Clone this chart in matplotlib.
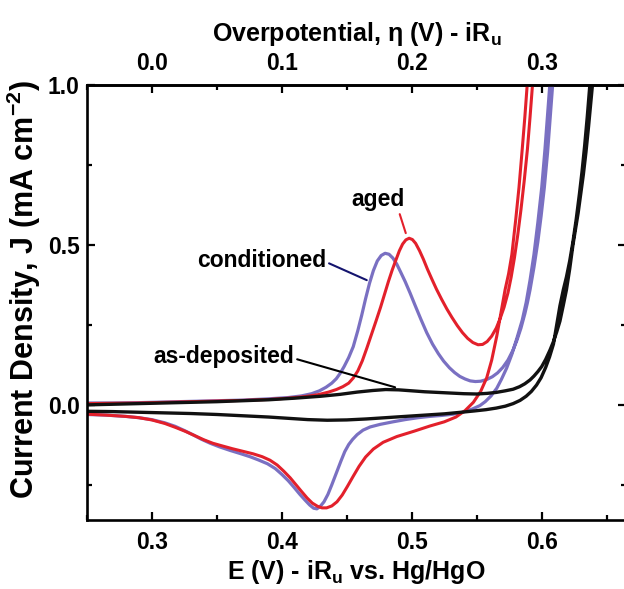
import matplotlib
matplotlib.use("Agg")
import matplotlib.pyplot as plt
from matplotlib.ticker import MultipleLocator, FixedLocator

plt.rcParams['font.family'] = ['Liberation Sans', 'DejaVu Sans']
plt.rcParams['mathtext.default'] = 'regular'

# CV sweeps, E (V) vs. Hg/HgO and J (mA cm-2); fwd = anodic sweep, rev = cathodic sweep
agedFwdE = [0.250, 0.270, 0.290, 0.310, 0.330, 0.350, 0.370, 0.390, 0.405, 0.418, 0.428, 0.436,
            0.442, 0.447, 0.4515, 0.455, 0.4585, 0.462, 0.4655, 0.469, 0.4725, 0.476, 0.479,
            0.482, 0.485, 0.488, 0.4905, 0.493, 0.4955, 0.498, 0.5005, 0.503, 0.506, 0.509,
            0.512, 0.5155, 0.519, 0.523, 0.527, 0.531, 0.535, 0.539, 0.543, 0.547, 0.551,
            0.5545, 0.558, 0.5615, 0.565, 0.568, 0.571, 0.574, 0.5765, 0.579, 0.5815, 0.584,
            0.5865, 0.589, 0.591, 0.5925, 0.594]
agedFwdJ = [0.004, 0.005, 0.006, 0.008, 0.010, 0.012, 0.014, 0.017, 0.021, 0.026, 0.032, 0.040,
            0.048, 0.057, 0.068, 0.084, 0.106, 0.138, 0.178, 0.220, 0.262, 0.305, 0.345,
            0.385, 0.422, 0.455, 0.482, 0.503, 0.516, 0.521, 0.517, 0.505, 0.482, 0.455,
            0.425, 0.393, 0.362, 0.330, 0.300, 0.273, 0.248, 0.226, 0.208, 0.195, 0.188,
            0.189, 0.198, 0.215, 0.240, 0.270, 0.305, 0.350, 0.400, 0.460, 0.530, 0.610,
            0.700, 0.800, 0.900, 0.980, 1.060]
agedRevE = [0.5898, 0.5888, 0.587, 0.585, 0.5825, 0.580, 0.577, 0.5745, 0.5718, 0.5685, 0.5654,
            0.5615, 0.5577, 0.553, 0.5474, 0.541, 0.534, 0.525, 0.514, 0.502, 0.4885, 0.478,
            0.4705, 0.4645, 0.4595, 0.455, 0.4505, 0.4465, 0.4425, 0.4385, 0.4345, 0.431,
            0.4275, 0.4235, 0.4195, 0.4155, 0.411, 0.4065, 0.4015, 0.3965, 0.391, 0.385, 0.378,
            0.370, 0.362, 0.354, 0.347, 0.340, 0.333, 0.326, 0.318, 0.310, 0.300, 0.290,
            0.280, 0.265, 0.250]
agedRevJ = [1.060, 1.000, 0.900, 0.800, 0.680, 0.580, 0.470, 0.410, 0.360, 0.285, 0.215,
            0.140, 0.085, 0.042, 0.008, -0.018, -0.038, -0.053, -0.066, -0.082, -0.099, -0.117,
            -0.138, -0.163, -0.192, -0.223, -0.255, -0.282, -0.303, -0.316, -0.322, -0.322,
            -0.317, -0.307, -0.291, -0.272, -0.250, -0.228, -0.207, -0.188, -0.173, -0.162, -0.153,
            -0.145, -0.137, -0.128, -0.120, -0.109, -0.096, -0.083, -0.070, -0.058, -0.047, -0.040,
            -0.036, -0.032, -0.029]

condFwdE = [0.250, 0.270, 0.290, 0.310, 0.330, 0.350, 0.370, 0.390, 0.405, 0.415, 0.423, 0.429,
            0.434, 0.4385, 0.442, 0.445, 0.448, 0.4515, 0.455, 0.4585, 0.4615, 0.4645, 0.4675,
            0.4705, 0.4735, 0.4765, 0.4795, 0.4825, 0.4855, 0.4885, 0.4915, 0.495, 0.4987,
            0.5025, 0.507, 0.5115, 0.516, 0.5205, 0.5245, 0.529, 0.533, 0.537, 0.541, 0.545,
            0.549, 0.553, 0.5575, 0.562, 0.566, 0.570, 0.574, 0.578, 0.581, 0.584, 0.587,
            0.589, 0.591, 0.594, 0.597, 0.5995, 0.602, 0.6045, 0.6065, 0.608, 0.6095]
condFwdJ = [0.006, 0.006, 0.007, 0.009, 0.011, 0.013, 0.015, 0.019, 0.023, 0.028, 0.035, 0.044,
            0.055, 0.068, 0.082, 0.099, 0.120, 0.148, 0.182, 0.232, 0.280, 0.332, 0.380,
            0.420, 0.450, 0.467, 0.474, 0.471, 0.459, 0.440, 0.415, 0.385, 0.350,
            0.312, 0.268, 0.226, 0.190, 0.160, 0.137, 0.116, 0.101, 0.089, 0.081, 0.075,
            0.073, 0.074, 0.079, 0.088, 0.100, 0.117, 0.140, 0.172, 0.203, 0.240, 0.285,
            0.320, 0.360, 0.430, 0.510, 0.590, 0.680, 0.790, 0.900, 0.980, 1.060]
condRevE = [0.6078, 0.6062, 0.6045, 0.6025, 0.600, 0.597, 0.594, 0.591, 0.588, 0.585, 0.581,
            0.577, 0.573, 0.569, 0.5654, 0.561, 0.5565, 0.5525, 0.546, 0.539, 0.532, 0.523,
            0.514, 0.505, 0.495, 0.4855, 0.4756, 0.468, 0.4625, 0.458, 0.4545, 0.4515, 0.4485,
            0.4455, 0.442, 0.4385, 0.4355, 0.4325, 0.4295, 0.427, 0.4245, 0.4215, 0.418, 0.414,
            0.4095, 0.405, 0.400, 0.395, 0.389, 0.382, 0.3756, 0.368, 0.360, 0.352, 0.345,
            0.338, 0.332, 0.325, 0.318, 0.310, 0.300, 0.290, 0.280, 0.265, 0.250]
condRevJ = [1.060, 1.000, 0.910, 0.800, 0.680, 0.570, 0.470, 0.390, 0.320, 0.265, 0.210,
            0.158, 0.115, 0.080, 0.052, 0.028, 0.010, -0.002, -0.014, -0.023, -0.029, -0.033,
            -0.036, -0.040, -0.046, -0.053, -0.061, -0.069, -0.079, -0.093, -0.108, -0.124, -0.146,
            -0.176, -0.213, -0.250, -0.280, -0.303, -0.318, -0.325, -0.323, -0.313, -0.298, -0.280,
            -0.258, -0.237, -0.217, -0.199, -0.184, -0.172, -0.162, -0.152, -0.142, -0.131, -0.120,
            -0.107, -0.094, -0.080, -0.067, -0.056, -0.046, -0.040, -0.036, -0.032, -0.030]

asdepFwdE = [0.250, 0.270, 0.290, 0.310, 0.330, 0.350, 0.370, 0.390, 0.410, 0.430, 0.445, 0.458,
             0.470, 0.480, 0.490, 0.500, 0.510, 0.520, 0.530, 0.540, 0.550, 0.558, 0.565, 0.572,
             0.578, 0.583, 0.587, 0.591, 0.594, 0.597, 0.600, 0.603, 0.6064, 0.609, 0.6115,
             0.614, 0.6165, 0.619, 0.6215, 0.624, 0.626, 0.628, 0.630, 0.632, 0.634, 0.636,
             0.6375, 0.639, 0.6405]
asdepFwdJ = [0.000, 0.002, 0.004, 0.006, 0.008, 0.010, 0.013, 0.016, 0.021, 0.027, 0.033, 0.040,
             0.045, 0.048, 0.047, 0.044, 0.041, 0.039, 0.037, 0.035, 0.034, 0.036, 0.039, 0.044,
             0.049, 0.057, 0.066, 0.078, 0.090, 0.104, 0.120, 0.142, 0.172, 0.198, 0.228,
             0.262, 0.310, 0.360, 0.425, 0.500, 0.550, 0.600, 0.660, 0.720, 0.790, 0.870,
             0.935, 1.000, 1.060]
asdepRevE = [0.6385, 0.637, 0.635, 0.633, 0.631, 0.629, 0.6265, 0.624, 0.6215, 0.619, 0.6166,
             0.614, 0.6115, 0.609, 0.606, 0.603, 0.5995, 0.596, 0.592, 0.588, 0.5833, 0.578,
             0.572, 0.565, 0.557, 0.548, 0.538, 0.525, 0.510, 0.495, 0.480, 0.465, 0.450, 0.435,
             0.420, 0.405, 0.390, 0.370, 0.350, 0.330, 0.310, 0.290, 0.270, 0.250]
asdepRevJ = [1.060, 1.000, 0.900, 0.810, 0.730, 0.660, 0.580, 0.510, 0.450, 0.400, 0.360,
             0.310, 0.250, 0.190, 0.150, 0.117, 0.085, 0.062, 0.042, 0.027, 0.014, 0.004,
             -0.004, -0.010, -0.015, -0.019, -0.023, -0.028, -0.032, -0.036, -0.040, -0.044, -0.047,
             -0.048, -0.046, -0.042, -0.038, -0.034, -0.030, -0.027, -0.025, -0.023, -0.021, -0.020]

xTicks = [0.3, 0.4, 0.5, 0.6]
yTicks = [0.0, 0.5, 1.0]
etaTicks = [0.0, 0.1, 0.2, 0.3]
eRef = 0.3  # E at zero overpotential

red = '#e3202b'
blue = '#7a70c2'
navy = '#14146e'

fig = plt.figure(figsize=(6.24, 5.89), dpi=100)
ax = fig.add_axes([0.139, 0.1171, 0.8646, 0.7385])

ax.plot(condFwdE + condRevE, condFwdJ + condRevJ, color=blue, lw=2.3)
ax.plot(agedFwdE + agedRevE, agedFwdJ + agedRevJ, color=red, lw=2.2)
ax.plot(asdepFwdE + asdepRevE, asdepFwdJ + asdepRevJ, color='#111111', lw=2.4)

ax.set_xlim(0.25, 0.665)
ax.set_ylim(-0.36, 1.0)

ax.xaxis.set_major_locator(FixedLocator(xTicks))
ax.xaxis.set_minor_locator(MultipleLocator(0.05))
ax.yaxis.set_major_locator(FixedLocator(yTicks))
ax.yaxis.set_minor_locator(MultipleLocator(0.25))
ax.tick_params(which='both', direction='in', width=1.6, right=True, top=False)
ax.tick_params(which='major', length=6)
ax.tick_params(which='minor', length=3.5)
ax.tick_params(axis='x', which='major', pad=8)
ax.tick_params(axis='y', which='major', pad=5)
for s in ax.spines.values():
    s.set_linewidth(1.9)
for lab in ax.get_xticklabels() + ax.get_yticklabels():
    lab.set_fontweight('bold')
    lab.set_fontsize(16.5)

# overpotential scale on top
sec = ax.secondary_xaxis('top', functions=(lambda e: e - eRef, lambda n: n + eRef))
sec.xaxis.set_major_locator(FixedLocator(etaTicks))
sec.xaxis.set_minor_locator(MultipleLocator(0.05))
sec.tick_params(which='both', direction='in', width=1.6)
sec.tick_params(which='major', length=6, pad=7)
sec.tick_params(which='minor', length=3.5)
sec.spines['top'].set_linewidth(1.9)
for lab in sec.get_xticklabels():
    lab.set_fontweight('bold')
    lab.set_fontsize(16.5)

ax.set_xlabel('E (V) - iR$_u$ vs. Hg/HgO', fontsize=18, fontweight='bold', labelpad=3)
sec.set_xlabel('Overpotential, η (V) - iR$_u$', fontsize=18, fontweight='bold', labelpad=8)
ax.set_ylabel('Current Density, J (mA cm$^{-2}$)', fontsize=22, fontweight='bold')
ax.yaxis.set_label_coords(-0.081, 0.53)

txtFont = dict(fontsize=16.5, fontweight='bold', ha='center', va='center')
ax.annotate('aged', xy=(0.4954, 0.537), xytext=(0.4737, 0.641),
            arrowprops=dict(arrowstyle='-', color=red, lw=1.5, shrinkA=0, shrinkB=0,
                            relpos=(0.9, 0.0)), **txtFont)
ax.annotate('conditioned', xy=(0.4654, 0.39), xytext=(0.3846, 0.45),
            arrowprops=dict(arrowstyle='-', color=navy, lw=1.5, shrinkA=0, shrinkB=0,
                            relpos=(1.02, 0.4)), **txtFont)
ax.annotate('as-deposited', xy=(0.4872, 0.055), xytext=(0.3556, 0.151),
            arrowprops=dict(arrowstyle='-', color='black', lw=1.5, shrinkA=0, shrinkB=0,
                            relpos=(1.01, 0.4)), **txtFont)

fig.savefig('out.png', dpi=100)
